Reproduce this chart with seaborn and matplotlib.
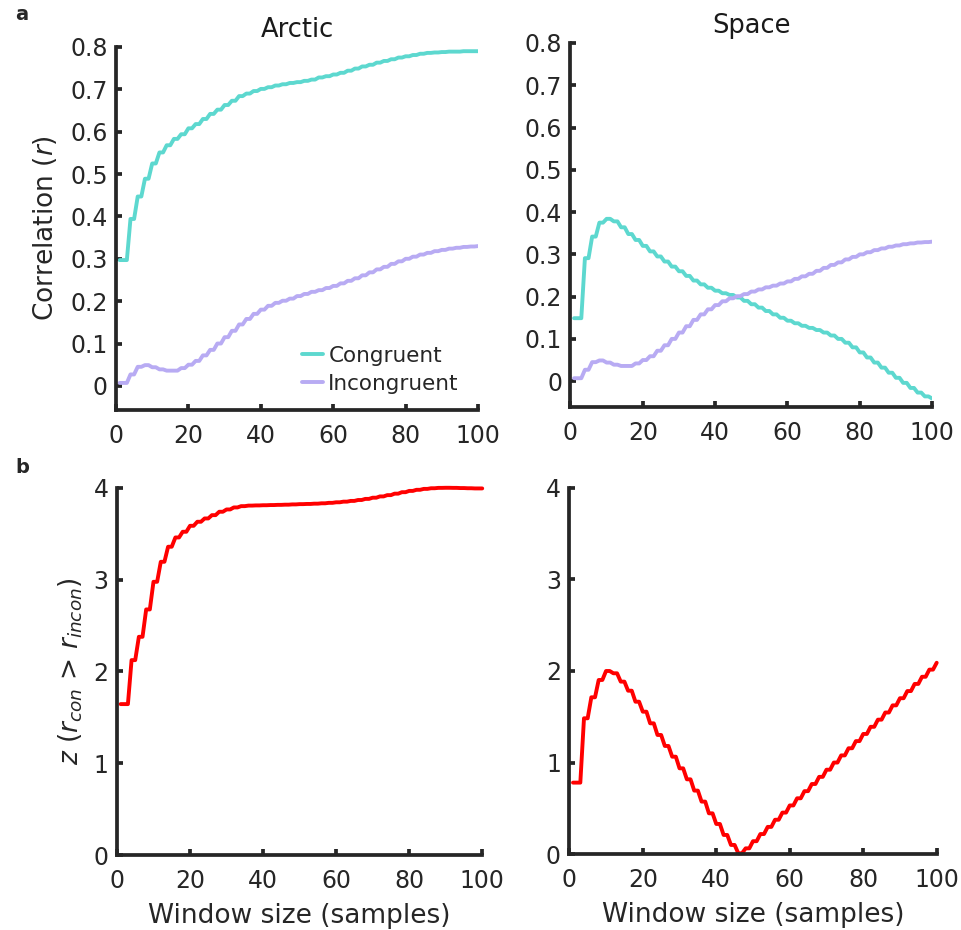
import numpy as np
import pandas as pd
import matplotlib
matplotlib.use("Agg")
import matplotlib.pyplot as plt
import seaborn as sns

# ---------------- data ----------------
# window sizes 1..100; values are given per half-window h = window // 2
window = np.arange(1, 101)

arctic_congruent = [0.297, 0.297, 0.394, 0.447, 0.489, 0.525, 0.551, 0.568, 0.583, 0.594,
                    0.608, 0.618, 0.630, 0.642, 0.652, 0.663, 0.673, 0.684, 0.690, 0.696,
                    0.701, 0.705, 0.709, 0.712, 0.715, 0.717, 0.720, 0.723, 0.728, 0.731,
                    0.735, 0.739, 0.744, 0.749, 0.754, 0.758, 0.763, 0.767, 0.771, 0.775,
                    0.778, 0.781, 0.784, 0.786, 0.787, 0.788, 0.789, 0.789, 0.790, 0.790,
                    0.790]
incongruent = [0.007, 0.007, 0.027, 0.045, 0.049, 0.044, 0.039, 0.036, 0.036, 0.042,
               0.050, 0.059, 0.072, 0.085, 0.100, 0.115, 0.130, 0.145, 0.158, 0.170,
               0.180, 0.189, 0.196, 0.201, 0.206, 0.212, 0.217, 0.222, 0.226, 0.231,
               0.236, 0.242, 0.248, 0.254, 0.261, 0.268, 0.275, 0.281, 0.288, 0.294,
               0.300, 0.305, 0.310, 0.314, 0.318, 0.321, 0.324, 0.326, 0.328, 0.329,
               0.330]
space_congruent = [0.149, 0.149, 0.291, 0.342, 0.375, 0.384, 0.378, 0.364, 0.348, 0.334,
                   0.320, 0.307, 0.295, 0.283, 0.271, 0.260, 0.249, 0.238, 0.229, 0.221,
                   0.214, 0.208, 0.204, 0.198, 0.190, 0.182, 0.174, 0.166, 0.158, 0.150,
                   0.143, 0.137, 0.131, 0.126, 0.121, 0.115, 0.108, 0.100, 0.091, 0.080,
                   0.068, 0.056, 0.044, 0.032, 0.020, 0.008, -0.004, -0.016, -0.027, -0.036,
                   -0.041]
arctic_z = [1.644, 1.644, 2.123, 2.377, 2.675, 2.976, 3.194, 3.358, 3.459, 3.521,
            3.586, 3.630, 3.666, 3.702, 3.739, 3.764, 3.786, 3.800, 3.806, 3.808,
            3.810, 3.812, 3.814, 3.816, 3.819, 3.822, 3.824, 3.827, 3.831, 3.836,
            3.842, 3.849, 3.857, 3.867, 3.879, 3.892, 3.906, 3.920, 3.936, 3.952,
            3.966, 3.978, 3.988, 3.995, 3.999, 4.000, 3.999, 3.997, 3.995, 3.993,
            3.993]
space_z = [0.782, 0.782, 1.484, 1.713, 1.902, 2.000, 1.975, 1.884, 1.785, 1.665,
           1.556, 1.429, 1.302, 1.182, 1.065, 0.938, 0.818, 0.695, 0.575, 0.447,
           0.331, 0.211, 0.102, 0.011, 0.065, 0.143, 0.221, 0.299, 0.377, 0.455,
           0.533, 0.611, 0.689, 0.767, 0.845, 0.923, 1.001, 1.079, 1.157, 1.235,
           1.313, 1.391, 1.469, 1.547, 1.625, 1.703, 1.781, 1.859, 1.937, 2.015,
           2.090]

conditions = ["Congruent", "Incongruent"]
panel_titles = ["Arctic", "Space"]
r_ticks = [0, 0.1, 0.2, 0.3, 0.4, 0.5, 0.6, 0.7, 0.8]
r_ticklabels = ["0", "0.1", "0.2", "0.3", "0.4", "0.5", "0.6", "0.7", "0.8"]
z_ticks = [0, 1, 2, 3, 4]
x_ticks = [0, 20, 40, 60, 80, 100]

# ---------------- style ----------------
CON = "#5DD8CF"
INCON = "#B8ABF3"
ZRED = "#FF0000"
AXC = "#262626"

sns.set_theme(style="ticks")
plt.rcParams["font.family"] = ["DejaVu Sans"]
plt.rcParams["mathtext.fontset"] = "dejavusans"
plt.rcParams["text.color"] = AXC
plt.rcParams["axes.labelcolor"] = AXC

half = window // 2


def expand(vals):
    return np.asarray(vals)[half]


def corr_frame(con):
    return pd.DataFrame({
        "window": np.concatenate([window, window]),
        "r": np.concatenate([expand(con), expand(incongruent)]),
        "Condition": [conditions[0]] * len(window) + [conditions[1]] * len(window),
    })


fig = plt.figure(figsize=(9.61, 9.30), dpi=100)
ax_tl = fig.add_axes([0.1207, 0.5591, 0.3767, 0.3904])
ax_tr = fig.add_axes([0.5936, 0.5624, 0.3763, 0.3914])
ax_bl = fig.add_axes([0.1217, 0.0806, 0.3801, 0.3949])
ax_br = fig.add_axes([0.5924, 0.0814, 0.3823, 0.3942])


def style(ax):
    sns.despine(ax=ax)
    for s in ["left", "bottom"]:
        ax.spines[s].set_linewidth(2.7)
        ax.spines[s].set_color(AXC)
        ax.spines[s].set_capstyle("projecting")
    ax.tick_params(direction="in", length=4, width=2.7, colors=AXC,
                   labelsize=17, pad=6)
    ax.tick_params(axis="x", pad=10)
    ax.set_xlim(0, 100)
    ax.set_xticks(x_ticks)


palette = {conditions[0]: CON, conditions[1]: INCON}

for ax, con, title, show_leg, ylo in [(ax_tl, arctic_congruent, panel_titles[0], True, -0.057),
                                      (ax_tr, space_congruent, panel_titles[1], False, -0.061)]:
    sns.lineplot(data=corr_frame(con), x="window", y="r", hue="Condition",
                 palette=palette, ax=ax, linewidth=2.8, estimator=None, sort=False,
                 legend=show_leg)
    style(ax)
    ax.set_ylim(ylo, 0.8)
    ax.set_yticks(r_ticks)
    ax.set_yticklabels(r_ticklabels)
    ax.set_xlabel("")
    ax.set_ylabel("")
    ax.set_title(title, fontsize=18.5, pad=7, color="#1a1a1a")

ax_tl.set_ylabel("Correlation ($r$)", fontsize=19, labelpad=8)
h, l = ax_tl.get_legend_handles_labels()
ax_tl.legend(h, l, loc="lower left", bbox_to_anchor=(0.515, 0.045), frameon=False,
             fontsize=15.5, handlelength=0.95, handletextpad=0.25, labelspacing=0.38,
             borderpad=0, borderaxespad=0)

for ax, zvals in [(ax_bl, arctic_z), (ax_br, space_z)]:
    sns.lineplot(x=window, y=expand(zvals), color=ZRED, ax=ax, linewidth=2.8,
                 estimator=None, sort=False)
    style(ax)
    ax.set_ylim(0, 4)
    ax.set_yticks(z_ticks)
    ax.set_xlabel("Window size (samples)", fontsize=19, labelpad=7)
    for ln in ax.lines:
        ln.set_clip_on(False)

ax_bl.set_ylabel(r"$z$ ($r_{con}$ > $r_{incon}$)", fontsize=19, labelpad=6)

fig.text(0.023, 0.984, "a", fontsize=14, fontweight="bold", va="center", ha="center")
fig.text(0.023, 0.497, "b", fontsize=14, fontweight="bold", va="center", ha="center")

fig.savefig("out.png", dpi=100)
